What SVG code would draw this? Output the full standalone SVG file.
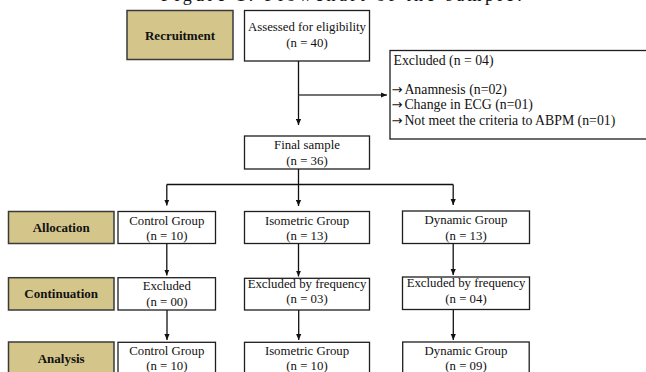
<svg xmlns="http://www.w3.org/2000/svg" width="646" height="372" viewBox="0 0 646 372">
<defs>
<marker id="ah" markerUnits="userSpaceOnUse" markerWidth="7" markerHeight="6" refX="6" refY="3" orient="auto">
<path d="M0,0.4 L6,3 L0,5.6 z" fill="#111"/>
</marker>
<style>
.box{fill:#fff;stroke:#1e1e1e;stroke-width:1.3}
.lab{fill:#D4C68B;stroke:#3a3a3a;stroke-width:1.5}
.t{font-family:"Liberation Serif","Times New Roman",serif;font-size:12.8px;fill:#111;text-anchor:middle}
.x{font-family:"Liberation Serif","Times New Roman",serif;font-size:13.8px;fill:#111}
.ar{font-family:"DejaVu Sans",sans-serif;font-size:13px}
.lt{font-family:"Liberation Serif","Times New Roman",serif;font-size:13px;font-weight:bold;fill:#111;text-anchor:middle}
.c{stroke:#111;stroke-width:1.3;fill:none}
.cg{stroke:#444;stroke-width:1.5;fill:none}
</style>
</defs>
<rect width="646" height="372" fill="#fff"/>
<text x="161" y="1" font-family="Liberation Serif, serif" font-size="18" letter-spacing="3.4" fill="#111">Figure 1. Flowchart of the sample.</text>

<g id="connectors">
<path class="c" d="M298.5,61 V125" marker-end="url(#ah)"/>
<path class="cg" d="M298.5,95 H387" marker-end="url(#ah)"/>
<path class="c" d="M298.5,169 V184.5 M166.8,184.5 H453.2"/>
<path class="c" d="M166.8,184.5 V205.5" marker-end="url(#ah)"/>
<path class="c" d="M298.5,184.5 V206" marker-end="url(#ah)"/>
<path class="c" d="M453.2,184.5 V205" marker-end="url(#ah)"/>
<path class="c" d="M166.8,243.5 V275.5" marker-end="url(#ah)"/>
<path class="c" d="M298.5,243.5 V276.5" marker-end="url(#ah)"/>
<path class="c" d="M453.2,243.5 V275" marker-end="url(#ah)"/>
<path class="c" d="M167,310 V340" marker-end="url(#ah)"/>
<path class="c" d="M298.7,310 V340" marker-end="url(#ah)"/>
<path class="c" d="M453.3,309.5 V340" marker-end="url(#ah)"/>
</g>

<g id="recruitment">
<rect class="lab" x="127" y="10.5" width="106" height="49"/>
<text class="lt" x="180" y="39.5">Recruitment</text>
</g>
<g id="assessed">
<rect class="box" x="244.5" y="10.5" width="125" height="50.5"/>
<text class="t" x="307" y="31">Assessed for eligibility</text>
<text class="t" x="307" y="47">(n = 40)</text>
</g>
<g id="excluded">
<rect class="box" x="390" y="50.5" width="262" height="88.5"/>
<text class="x" x="393.5" y="65">Excluded (n = 04)</text>
<text class="x" x="391.5" y="94"><tspan class="ar">→</tspan><tspan dx="2">Anamnesis (n=02)</tspan></text>
<text class="x" x="391.5" y="109.3"><tspan class="ar">→</tspan><tspan dx="2">Change in ECG (n=01)</tspan></text>
<text class="x" x="391.5" y="124.6"><tspan class="ar">→</tspan><tspan dx="2">Not meet the criteria to ABPM (n=01)</tspan></text>
</g>
<g id="final">
<rect class="box" x="244.5" y="136" width="125" height="33"/>
<text class="t" x="307" y="149.3">Final sample</text>
<text class="t" x="307" y="165">(n = 36)</text>
</g>

<g id="allocation">
<rect class="lab" x="8.5" y="211.5" width="105.5" height="32"/>
<text class="lt" x="61.2" y="232">Allocation</text>
</g>
<g id="alloc-control">
<rect class="box" x="118" y="211.5" width="97.5" height="32"/>
<text class="t" x="166.8" y="224.5">Control Group</text>
<text class="t" x="166.8" y="239.5">(n = 10)</text>
</g>
<g id="alloc-isometric">
<rect class="box" x="244.5" y="211.5" width="125" height="32"/>
<text class="t" x="307" y="224.5">Isometric Group</text>
<text class="t" x="307" y="239.5">(n = 13)</text>
</g>
<g id="alloc-dynamic">
<rect class="box" x="402.5" y="211" width="127" height="32.5"/>
<text class="t" x="466" y="224.3">Dynamic Group</text>
<text class="t" x="466" y="239.5">(n = 13)</text>
</g>

<g id="continuation">
<rect class="lab" x="8.5" y="277.7" width="105.5" height="32.3"/>
<text class="lt" x="61.2" y="298.3">Continuation</text>
</g>
<g id="cont-control">
<rect class="box" x="118" y="277.7" width="97.5" height="32.3"/>
<text class="t" x="166.8" y="290">Excluded</text>
<text class="t" x="166.8" y="305.5">(n = 00)</text>
</g>
<g id="cont-isometric">
<rect class="box" x="244.5" y="278.3" width="125" height="31.7"/>
<text class="t" x="307" y="287.5">Excluded by frequency</text>
<text class="t" x="307" y="303">(n = 03)</text>
</g>
<g id="cont-dynamic">
<rect class="box" x="402.5" y="277" width="127" height="32.5"/>
<text class="t" x="466" y="287">Excluded by frequency</text>
<text class="t" x="466" y="302.5">(n = 04)</text>
</g>

<g id="analysis">
<rect class="lab" x="8.5" y="342" width="105.5" height="40"/>
<text class="lt" x="61.2" y="362.7">Analysis</text>
</g>
<g id="anal-control">
<rect class="box" x="118" y="342.3" width="97.5" height="40"/>
<text class="t" x="166.8" y="355">Control Group</text>
<text class="t" x="166.8" y="370">(n = 10)</text>
</g>
<g id="anal-isometric">
<rect class="box" x="244.5" y="342.3" width="125" height="40"/>
<text class="t" x="307" y="355">Isometric Group</text>
<text class="t" x="307" y="370">(n = 10)</text>
</g>
<g id="anal-dynamic">
<rect class="box" x="402.7" y="342" width="126.5" height="40"/>
<text class="t" x="466" y="355">Dynamic Group</text>
<text class="t" x="466" y="370">(n = 09)</text>
</g>
</svg>
